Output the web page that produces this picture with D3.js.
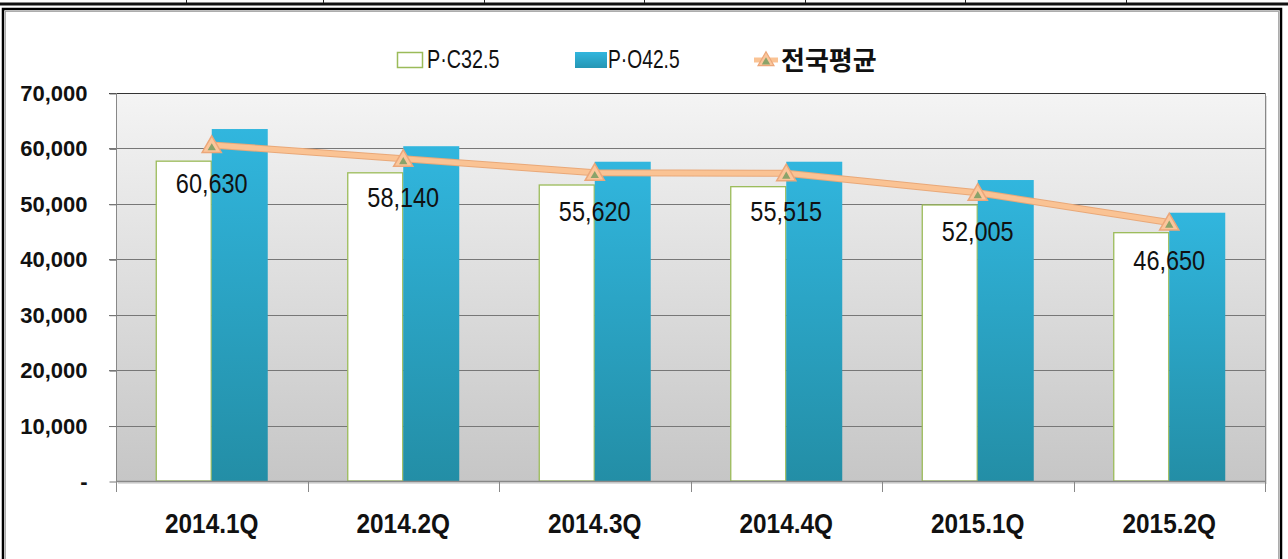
<!DOCTYPE html>
<html><head><meta charset="utf-8">
<script src="https://cdn.jsdelivr.net/npm/d3@7"></script>
<style>
html,body{margin:0;padding:0;background:#fff;}
svg{display:block;}
</style></head>
<body>
<svg id="c" width="1288" height="559"></svg>
<script>
const categories = ["2014.1Q","2014.2Q","2014.3Q","2014.4Q","2015.1Q","2015.2Q"];
const seriesNames = ["P·C32.5","P·O42.5","전국평균"];
const pc325 = [57700, 55600, 53400, 53100, 49800, 44800];
const po425 = [63500, 60400, 57600, 57600, 54300, 48400];
const avg = [60630, 58140, 55620, 55515, 52005, 46650];
const yTicks = [0,10000,20000,30000,40000,50000,60000,70000];

const svg = d3.select("#c");
const W = 1288, H = 559;
const plot = {l:116, r:1265, t:93, b:481};
const FONT = "'Liberation Sans',Arial,sans-serif";

const defs = svg.append("defs");
const bg = defs.append("linearGradient").attr("id","bg").attr("x1",0).attr("y1",0).attr("x2",0).attr("y2",1);
bg.append("stop").attr("offset","0%").attr("stop-color","#f4f4f4");
bg.append("stop").attr("offset","100%").attr("stop-color","#c6c6c6");
const bl = defs.append("linearGradient").attr("id","blue").attr("x1",0).attr("y1",0).attr("x2",0).attr("y2",1);
bl.append("stop").attr("offset","0%").attr("stop-color","#31b6de");
bl.append("stop").attr("offset","100%").attr("stop-color","#238ea6");
const lg = defs.append("linearGradient").attr("id","blueL").attr("x1",0).attr("y1",0).attr("x2",0).attr("y2",1);
lg.append("stop").attr("offset","0%").attr("stop-color","#31b6de");
lg.append("stop").attr("offset","100%").attr("stop-color","#2596b4");

// page decorations (top rule and frame)
svg.append("rect").attr("x",0).attr("y",2.5).attr("width",W).attr("height",3).attr("fill","#111");
[186,323,484,644,805,965,1126].forEach(x=>{
  svg.append("line").attr("x1",x+0.5).attr("x2",x+0.5).attr("y1",0).attr("y2",3).attr("stroke","#222").attr("stroke-width",1);
});
svg.append("rect").attr("x",3).attr("y",9).attr("width",1278).attr("height",H).attr("fill","none").attr("stroke","#000").attr("stroke-width",2.5);
svg.append("rect").attr("x",5.5).attr("y",11.5).attr("width",1273).attr("height",H).attr("fill","none").attr("stroke","#999").attr("stroke-width",0.8);

const x = d3.scaleBand().domain(categories).range([plot.l, plot.r]).padding(0);
const xs = d3.scaleBand().domain(["c","o"]).range([0, x.bandwidth()]).paddingInner(0).paddingOuter(0.71);
const y = d3.scaleLinear().domain([0,70000]).range([plot.b, plot.t]);

// plot background
svg.append("rect").attr("x",plot.l+2).attr("y",plot.t+3).attr("width",plot.r-plot.l).attr("height",plot.b-plot.t).attr("fill","#bbb").attr("opacity",0.5);
svg.append("rect").attr("x",plot.l).attr("y",plot.t).attr("width",plot.r-plot.l).attr("height",plot.b-plot.t).attr("fill","url(#bg)");

// gridlines
svg.append("g").selectAll("line").data(yTicks.slice(1)).join("line")
  .attr("x1",plot.l-7).attr("x2",plot.r)
  .attr("y1",d=>Math.round(y(d))+0.5).attr("y2",d=>Math.round(y(d))+0.5)
  .attr("stroke",d=>d===70000?"#333":"#777").attr("stroke-width",1);
svg.append("line").attr("x1",plot.l+0.5).attr("x2",plot.l+0.5).attr("y1",plot.t).attr("y2",plot.b).attr("stroke","#888");
svg.append("line").attr("x1",plot.r+0.5).attr("x2",plot.r+0.5).attr("y1",plot.t).attr("y2",plot.b).attr("stroke","#888");

// y axis
const yAxis = d3.axisLeft(y).tickValues(yTicks).tickSize(7).tickPadding(22)
  .tickFormat(d=>d===0?"-":d3.format(",")(d));
const ya = svg.append("g").attr("transform",`translate(${plot.l+0.5},0.5)`).call(yAxis);
ya.select(".domain").remove();
ya.selectAll(".tick line").attr("stroke","#777");
ya.selectAll(".tick text").attr("font-family",FONT).attr("font-weight","bold")
  .attr("font-size",22).attr("fill","#111");

// bars
const g = svg.append("g");
g.selectAll("rect.c").data(categories).join("rect").attr("class","c")
  .attr("x",(d)=>x(d)+xs("c")+0.5).attr("width",xs.bandwidth()-1)
  .attr("y",(d,i)=>y(pc325[i])).attr("height",(d,i)=>y(0)-y(pc325[i]))
  .attr("fill","#fff").attr("stroke","#9bbb59").attr("stroke-width",1.3);
g.selectAll("rect.o").data(categories).join("rect").attr("class","o")
  .attr("x",(d)=>x(d)+xs("o")).attr("width",xs.bandwidth())
  .attr("y",(d,i)=>y(po425[i])).attr("height",(d,i)=>y(0)-y(po425[i]))
  .attr("fill","url(#blue)");

// x axis
const xAxis = d3.axisBottom(x).tickSize(0).tickPadding(32);
const xa = svg.append("g").attr("transform",`translate(0,${plot.b})`).call(xAxis);
xa.select(".domain").attr("stroke","#888").attr("stroke-width",1.5);
xa.selectAll(".tick text").attr("font-family",FONT).attr("font-weight","bold")
  .attr("font-size",28).attr("fill","#111").attr("transform","scale(0.87,1)");
svg.append("g").selectAll("line").data(categories.concat(["__end"])).join("line")
  .attr("x1",(d,i)=>Math.round(plot.l + i*x.step())+0.5).attr("x2",(d,i)=>Math.round(plot.l + i*x.step())+0.5)
  .attr("y1",plot.b).attr("y2",plot.b+11).attr("stroke","#888");

// line
const cx = d=>x(d)+x.bandwidth()/2;
const line = d3.line().x((d,i)=>cx(categories[i])).y(d=>y(d));
svg.append("path").datum(avg).attr("d",line).attr("fill","none")
  .attr("stroke","#e9a878").attr("stroke-width",7).attr("stroke-linejoin","round");
svg.append("path").datum(avg).attr("d",line).attr("fill","none")
  .attr("stroke","#fac394").attr("stroke-width",5).attr("stroke-linejoin","round");
const tri = d3.symbol().type(d3.symbolTriangle).size(160);
const triS = d3.symbol().type(d3.symbolTriangle).size(30);
svg.append("g").selectAll("path").data(avg).join("path")
  .attr("transform",(d,i)=>`translate(${cx(categories[i])},${y(d)+2})`)
  .attr("d",tri).attr("fill","#fbc69b").attr("stroke","#eca77a").attr("stroke-width",1.5);
svg.append("g").selectAll("path").data(avg).join("path")
  .attr("transform",(d,i)=>`translate(${cx(categories[i])},${y(d)+3})`)
  .attr("d",triS).attr("fill","#8aa36a");

// data labels
svg.append("g").selectAll("text").data(avg).join("text")
  .attr("transform",(d,i)=>`translate(${cx(categories[i])},${y(d)+48}) scale(0.87,1)`)
  .attr("text-anchor","middle").attr("font-family",FONT)
  .attr("font-size",27).attr("fill","#111").text(d=>d3.format(",")(d));

// legend
const lgd = svg.append("g");
lgd.append("rect").attr("x",397.5).attr("y",52.5).attr("width",25).attr("height",15).attr("fill","#fff").attr("stroke","#9bbb59").attr("stroke-width",1.5);
lgd.append("text").attr("transform","translate(427,68) scale(0.76,1)").attr("font-family",FONT)
  .attr("font-size",26).attr("fill","#111").text(seriesNames[0]);
lgd.append("rect").attr("x",575).attr("y",52).attr("width",32).attr("height",16).attr("fill","url(#blueL)");
lgd.append("text").attr("transform","translate(608,68) scale(0.74,1)").attr("font-family",FONT)
  .attr("font-size",26).attr("fill","#111").text(seriesNames[1]);
lgd.append("line").attr("x1",754).attr("x2",778).attr("y1",60).attr("y2",60).attr("stroke","#fac394").attr("stroke-width",5);
lgd.append("path").attr("transform","translate(766,61)").attr("d",d3.symbol().type(d3.symbolTriangle).size(110))
  .attr("fill","#fbc69b").attr("stroke","#eca77a").attr("stroke-width",1.2);
lgd.append("path").attr("transform","translate(766,62)").attr("d",triS).attr("fill","#8aa36a");
lgd.append("text").attr("x",781).attr("y",70).attr("font-family","'Noto Sans CJK KR',sans-serif").attr("font-weight","bold")
  .attr("font-size",26).attr("fill","#111").text(seriesNames[2]);
</script>
</body></html>
